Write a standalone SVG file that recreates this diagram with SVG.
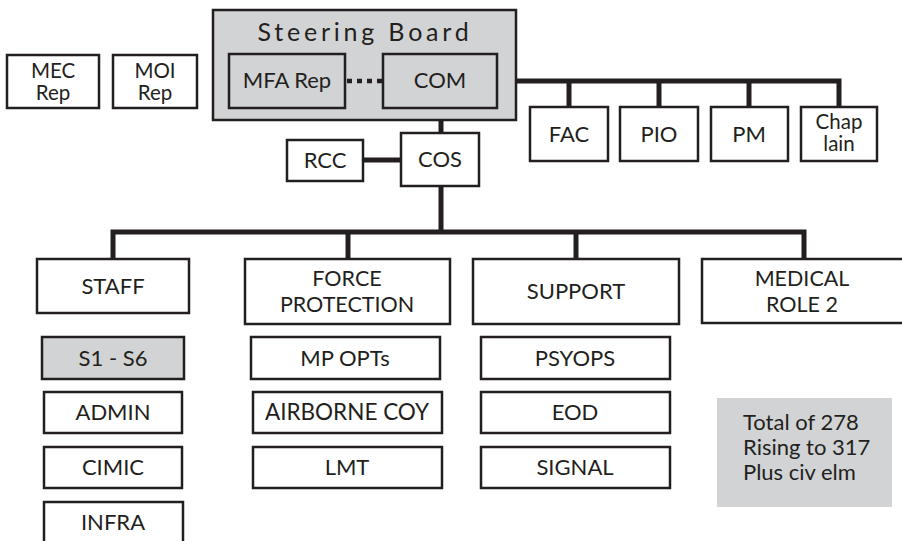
<svg xmlns="http://www.w3.org/2000/svg" width="902" height="541" viewBox="0 0 902 541">
<style>
.box{fill:#fff;stroke:#231f20;stroke-width:2.5}
.gray{fill:#d1d3d4;stroke:#231f20;stroke-width:2.5}
.note{fill:#d1d3d4;stroke:none}
text{font-family:Lato,"Open Sans","Liberation Sans",sans-serif;font-size:22px;fill:#231f20;text-anchor:middle}
.two{font-size:20.5px}
.two2{font-size:21.5px}
.conn{fill:none;stroke:#231f20;stroke-width:5}
.dot{fill:none;stroke:#231f20;stroke-width:4.5;stroke-dasharray:5 5}
</style>
<rect width="902" height="541" fill="#fff"/>
<g id="connectors">
<line class="conn" x1="441" y1="108" x2="441" y2="133"/>
<line class="conn" x1="363" y1="160" x2="401" y2="160"/>
<line class="conn" x1="441" y1="186" x2="441" y2="232"/>
<polyline class="conn" points="113,259 113,232 804,232 804,259"/>
<line class="conn" x1="348" y1="232" x2="348" y2="259"/>
<line class="conn" x1="576" y1="232" x2="576" y2="259"/>
<polyline class="conn" points="497,81 839,81 839,107"/>
<line class="conn" x1="569" y1="81" x2="569" y2="107"/>
<line class="conn" x1="659" y1="81" x2="659" y2="107"/>
<line class="conn" x1="749" y1="81" x2="749" y2="107"/>
</g>
<g id="steering-board">
<rect class="gray" x="213" y="10" width="303" height="110"/>
<text x="365" y="41" style="font-size:25px;letter-spacing:3.8px">Steering Board</text>
</g>
<g id="mfa-rep"><rect class="gray" x="229" y="54" width="116" height="54"/><text x="287" y="88">MFA Rep</text></g>
<line class="dot" x1="347" y1="81" x2="383" y2="81"/>
<g id="com"><rect class="gray" x="383" y="54" width="114" height="54"/><text x="440" y="88">COM</text></g>
<g id="mec-rep"><rect class="box" x="7" y="55" width="92" height="53"/><text class="two" x="53" y="78">MEC</text><text class="two" x="53" y="100">Rep</text></g>
<g id="moi-rep"><rect class="box" x="113" y="55" width="84" height="53"/><text class="two" x="155" y="78">MOI</text><text class="two" x="155" y="100">Rep</text></g>
<g id="fac"><rect class="box" x="530" y="107" width="78" height="54"/><text x="569" y="142">FAC</text></g>
<g id="pio"><rect class="box" x="620" y="107" width="78" height="54"/><text x="659" y="142">PIO</text></g>
<g id="pm"><rect class="box" x="711" y="107" width="77" height="54"/><text x="749" y="142">PM</text></g>
<g id="chaplain"><rect class="box" x="801" y="107" width="76" height="54"/><text class="two" x="839" y="129">Chap</text><text class="two" x="839" y="151">lain</text></g>
<g id="rcc"><rect class="box" x="287" y="140" width="76" height="41"/><text x="325" y="168">RCC</text></g>
<g id="cos"><rect class="box" x="401" y="133" width="78" height="53"/><text x="440" y="167">COS</text></g>
<g id="staff"><rect class="box" x="37" y="259" width="152" height="54"/><text x="113" y="294">STAFF</text></g>
<g id="force-protection"><rect class="box" x="245" y="259" width="205" height="65"/><text class="two2" x="347" y="286">FORCE</text><text class="two2" x="347" y="312">PROTECTION</text></g>
<g id="support"><rect class="box" x="473" y="259" width="206" height="65"/><text x="576" y="299">SUPPORT</text></g>
<g id="medical"><rect class="box" x="702" y="259" width="210" height="64"/><text class="two2" x="802" y="286">MEDICAL</text><text class="two2" x="802" y="312">ROLE 2</text></g>
<g id="s1-s6"><rect class="gray" x="42" y="337" width="142" height="42"/><text x="113" y="366">S1 - S6</text></g>
<g id="admin"><rect class="box" x="44" y="392" width="138" height="41"/><text x="113" y="420">ADMIN</text></g>
<g id="cimic"><rect class="box" x="44" y="447" width="138" height="41"/><text x="113" y="475">CIMIC</text></g>
<g id="infra"><rect class="box" x="44" y="502" width="139" height="50"/><text x="113" y="530">INFRA</text></g>
<g id="mp-opts"><rect class="box" x="251" y="337" width="189" height="42"/><text x="345" y="366">MP OPTs</text></g>
<g id="airborne-coy"><rect class="box" x="253" y="392" width="189" height="41"/><text x="347" y="420" style="font-size:22.5px">AIRBORNE COY</text></g>
<g id="lmt"><rect class="box" x="253" y="447" width="189" height="41"/><text x="347" y="475">LMT</text></g>
<g id="psyops"><rect class="box" x="481" y="337" width="189" height="42"/><text x="575" y="366">PSYOPS</text></g>
<g id="eod"><rect class="box" x="481" y="392" width="189" height="41"/><text x="575" y="420">EOD</text></g>
<g id="signal"><rect class="box" x="481" y="447" width="189" height="41"/><text x="575" y="475">SIGNAL</text></g>
<g id="total-note"><rect class="note" x="717" y="398" width="175" height="109"/>
<text x="743" y="430" style="text-anchor:start">Total of 278</text>
<text x="743" y="455" style="text-anchor:start">Rising to 317</text>
<text x="743" y="480" style="text-anchor:start">Plus civ elm</text></g>
</svg>
